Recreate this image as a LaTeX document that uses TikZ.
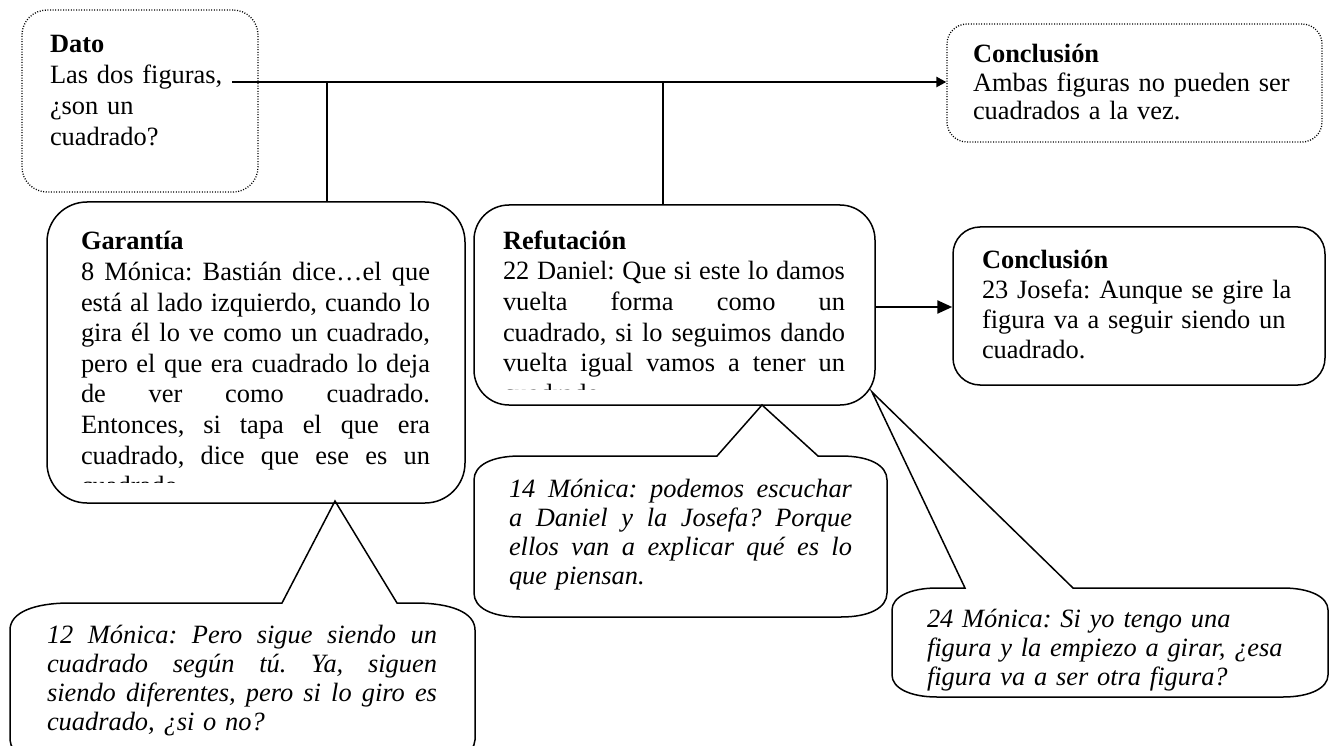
\documentclass[tikz,border=0pt]{standalone}
\usepackage{fontspec}
\setmainfont{Liberation Serif}
\usetikzlibrary{arrows.meta}
\frenchspacing
\newcommand{\fstrut}{\rule{0pt}{22pt}}
\newcommand{\jw}{349pt}
\newcommand{\jl}[1]{\leavevmode\hbox to \jw{\spaceskip=0.25em plus 1fil\relax #1}}
\begin{document}
\begin{tikzpicture}[x=1pt,y=-1pt,
  solidbox/.style={draw, line width=1.5pt, inner sep=0pt},
  dotbox/.style={draw, line width=1.3pt, dash pattern=on 1pt off 1.6pt, inner sep=0pt},
  txt/.style={anchor=north west, inner sep=0pt, outer sep=0pt, align=left},
  conn/.style={line width=2pt},
  arr/.style={line width=2.4pt, -{Triangle[length=10pt,width=10pt]}},
  arrb/.style={line width=2.4pt, -{Triangle[length=15pt,width=13pt]}},
  callout/.style={draw, line width=1.5pt, line join=miter},
]
\useasboundingbox (0,0) rectangle (1333,746);

% boxes
\node[dotbox, rounded corners=25pt, minimum width=236pt, minimum height=182pt] (dato) at (140,101) {};
\node[dotbox, rounded corners=20pt, minimum width=375pt, minimum height=118pt] (conc1) at (1134.5,83) {};
\node[solidbox, rounded corners=40pt, minimum width=418pt, minimum height=301pt] (gar) at (256,352.5) {};
\node[solidbox, rounded corners=35pt, minimum width=401pt, minimum height=200pt] (ref) at (674.5,305) {};
\node[solidbox, rounded corners=27pt, minimum width=372pt, minimum height=158pt] (conc2) at (1139,306) {};

% connectors
\coordinate (hs) at (232,82);
\coordinate (j1) at (327,82);
\coordinate (j2) at (663,82);
\draw[arr] (hs) -- (hs -| conc1.west);
\draw[conn] (j1) -- (j1 |- gar.north);
\draw[conn] (j2) -- (j2 |- ref.north);
\coordinate (a2) at (875,307);
\draw[arrb] (a2) -- (a2 -| conc2.west);

% callouts
\draw[callout] (10,630) .. controls (10,612) and (35,603) .. (70,603) -- (282,603) -- (335,501) -- (397,603) -- (415,603) .. controls (450,603) and (475,612) .. (475,630) -- (475,740) .. controls (475,754) and (450,765) .. (420,765) -- (65,765) .. controls (35,765) and (10,754) .. (10,740) -- cycle;
\draw[callout] (474,480) .. controls (474,465) and (492,456) .. (520,456) -- (717,456) -- (762,405) -- (818,456) -- (841,456) .. controls (869,456) and (887,465) .. (887,480) -- (887,593) .. controls (887,608) and (869,617) .. (841,617) -- (520,617) .. controls (492,617) and (474,608) .. (474,593) -- cycle;
\draw[callout] (892,610) .. controls (892,597) and (910,588) .. (937,588) -- (965,588) -- (872,392) -- (1073,588) -- (1283,588) .. controls (1310,588) and (1328,597) .. (1328,610) -- (1328,675) .. controls (1328,688) and (1310,697) .. (1283,697) -- (937,697) .. controls (910,697) and (892,688) .. (892,675) -- cycle;

% texts
\node[txt, text width=190pt, font=\fontsize{26.4}{30.7}\selectfont] (datot) at (50,31)
  {\fstrut\textbf{Dato}\\Las dos figuras,\\¿son un\\cuadrado?};
\node[txt, text width=340pt, font=\fontsize{26.4}{28.5}\selectfont] (conc1t) at (973,41)
  {\fstrut\textbf{Conclusión}\\Ambas figuras no pueden ser\\cuadrados a la vez.};
\begin{scope}
\clip (70,215) rectangle (450,482);
\node[txt, text width=349pt, font=\fontsize{26.4}{30.6}\selectfont] (gart) at (81,228)
  {\renewcommand{\jw}{349pt}\fstrut\textbf{Garantía}\\
   \jl{8 Mónica: Bastián dice…el que}\\
   \jl{está al lado izquierdo, cuando lo}\\
   \jl{gira él lo ve como un cuadrado,}\\
   \jl{pero el que era cuadrado lo deja}\\
   \jl{de ver como cuadrado.}\\
   \jl{Entonces, si tapa el que era}\\
   \jl{cuadrado, dice que ese es un}\\
   cuadrado.};
\end{scope}
\begin{scope}
\clip (490,215) rectangle (860,389);
\node[txt, text width=342pt, font=\fontsize{26.4}{30.7}\selectfont] (reft) at (503,227)
  {\renewcommand{\jw}{342pt}\fstrut\textbf{Refutación}\\
   \jl{22 Daniel: Que si este lo damos}\\
   \jl{vuelta forma como un}\\
   \jl{cuadrado, si lo seguimos dando}\\
   \jl{vuelta igual vamos a tener un}\\
   cuadrado.};
\end{scope}
\node[txt, text width=330pt, font=\fontsize{26.4}{30}\selectfont] (conc2t) at (982,246)
  {\fstrut\textbf{Conclusión}\\23 Josefa: Aunque se gire la\\figura va a seguir siendo un\\cuadrado.};
\begin{scope}
\clip (40,610) rectangle (460,735);
\node[txt, text width=390pt, font=\fontsize{26.4}{29}\selectfont\itshape] (c12t) at (47,621)
  {\renewcommand{\jw}{390pt}\fstrut\jl{12 Mónica: Pero sigue siendo un}\\
   \jl{cuadrado según tú. Ya, siguen}\\
   \jl{siendo diferentes, pero si lo giro es}\\
   cuadrado, ¿si o no?};
\end{scope}
\node[txt, text width=343pt, font=\fontsize{26.4}{29}\selectfont\itshape] (c14t) at (509,475)
  {\renewcommand{\jw}{343pt}\fstrut\jl{14 Mónica: podemos escuchar}\\
   \jl{a Daniel y la Josefa? Porque}\\
   \jl{ellos van a explicar qué es lo}\\
   que piensan.};
\node[txt, text width=395pt, font=\fontsize{26.4}{29}\selectfont\itshape] (c24t) at (927,605)
  {\fstrut 24 Mónica: Si yo tengo una\\figura y la empiezo a girar, ¿esa\\figura va a ser otra figura?};
\end{tikzpicture}
\end{document}
